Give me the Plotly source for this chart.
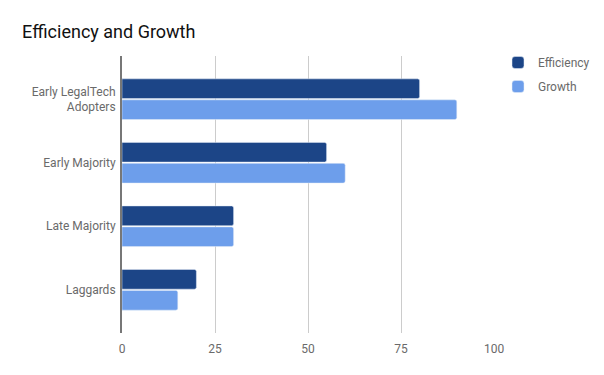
import plotly.graph_objects as go

categories = ["Early LegalTech<br>Adopters", "Early Majority", "Late Majority", "Laggards"]
efficiency = [80, 55, 30, 20]
growth = [90, 60, 30, 15]
x_ticks = [0, 25, 50, 75, 100]

fig = go.Figure()
fig.add_trace(go.Bar(y=categories, x=efficiency, name="Efficiency", orientation="h",
                     marker=dict(color="#1c4587"), legendgroup="a"))
fig.add_trace(go.Bar(y=categories, x=growth, name="Growth", orientation="h",
                     marker=dict(color="#6d9eeb"), legendgroup="b"))

fig.update_layout(
    width=604, height=375,
    margin=dict(l=122, r=110, t=56, b=42, autoexpand=False),
    paper_bgcolor="white", plot_bgcolor="white",
    font=dict(family="Roboto", size=12, color="#6a6a6a"),
    title=dict(text="Efficiency and Growth", x=22/604, xanchor="left", y=1-32/375, yanchor="middle",
               font=dict(family="Roboto", size=18, color="#111111")),
    barmode="group", bargap=0.34, bargroupgap=0.06, barcornerradius=2,
    legend=dict(xref="container", yref="container", x=498/604, xanchor="left",
                y=1-48/375, yanchor="top", tracegroupgap=5,
                font=dict(size=12, color="#6a6a6a")),
    xaxis=dict(range=[0, 100], tickvals=x_ticks, showgrid=True, gridcolor="#cccccc",
               zeroline=False, ticks="", showline=False, automargin=False, ticklabelstandoff=7),
    yaxis=dict(range=[3.68, -0.68], showgrid=False, zeroline=False, ticks="",
               showline=True, linecolor="#777777", linewidth=2, ticklabelstandoff=2, automargin=False),
)
fig.write_html("out.html", config={"displayModeBar": False},
               post_script="document.body.style.margin='0';")
